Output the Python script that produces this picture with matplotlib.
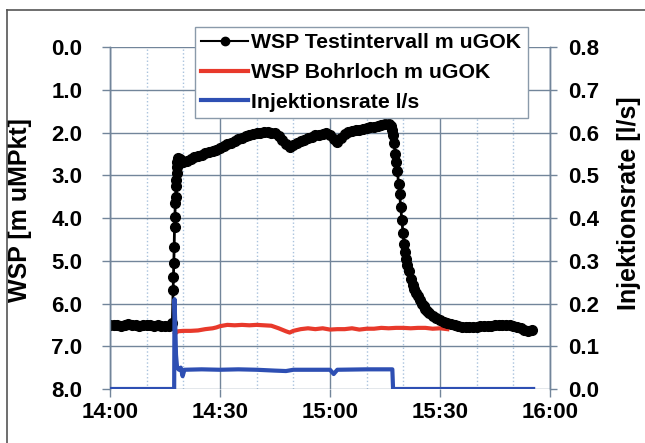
import numpy as np
import matplotlib.pyplot as plt
from matplotlib.lines import Line2D

plt.rcParams['font.family'] = ['Liberation Sans', 'DejaVu Sans']
plt.rcParams['font.weight'] = 'bold'

# time in minutes after 14:00
t_test = [0, 1, 2, 3, 4, 5, 6, 7, 8, 9, 10, 11, 12, 13, 14, 15, 16, 17.0,
          17.2, 17.3, 17.4, 17.5, 17.6, 17.7, 17.8, 17.9, 18.0, 18.1, 18.2, 18.3, 18.4, 18.5,
          19, 19.6, 20, 21, 22, 23, 24, 25, 26, 27, 28, 29, 30, 31, 32, 33, 34, 35, 36,
          37, 38, 39, 40, 41, 42, 43, 44, 45, 46, 47, 48, 49, 50, 51, 52, 53, 54, 55,
          56, 57, 58, 59, 60, 61, 62, 63, 64, 65, 66, 67, 68, 69, 70, 71, 72, 73, 74,
          75, 76, 76.6, 76.9, 77.2, 77.5, 77.8, 78.1, 78.4, 78.7, 79.0, 79.3, 79.6, 79.9,
          80.2, 80.5, 80.8, 81.1, 81.5, 82, 82.5, 83, 83.5, 84, 84.5, 85, 85.5, 86, 86.5,
          87, 88, 89, 90, 91, 92, 93, 94, 95, 96, 97, 98, 99, 100, 101, 102, 103, 104,
          105, 106, 107, 108, 109, 110, 111, 112, 113, 114, 115]
wsp_test = [6.50, 6.51, 6.50, 6.52, 6.50, 6.49, 6.51, 6.50, 6.52, 6.51, 6.50, 6.50, 6.52,
            6.51, 6.53, 6.52, 6.53, 6.45,
            5.69, 5.39, 5.06, 4.69, 4.20, 3.98, 3.65, 3.51, 3.24, 3.12, 2.95, 2.80, 2.68, 2.60,
            2.62, 2.68, 2.70, 2.66, 2.62, 2.58, 2.55, 2.52, 2.49, 2.46, 2.44, 2.41, 2.37, 2.32,
            2.28, 2.24, 2.20, 2.16, 2.12, 2.09, 2.06, 2.04, 2.02, 2.00, 1.99, 1.99, 2.00, 2.02,
            2.08, 2.18, 2.28, 2.33, 2.30, 2.25, 2.21, 2.17, 2.13, 2.10, 2.07, 2.05, 2.03, 2.02,
            2.05, 2.15, 2.22, 2.12, 2.03, 1.99, 1.97, 1.95, 1.93, 1.91, 1.89, 1.88, 1.86, 1.84,
            1.83, 1.81, 1.80, 1.85, 1.95, 2.05, 2.25, 2.50, 2.70, 2.90, 3.20, 3.45, 3.75, 4.05,
            4.35, 4.60, 4.80, 4.97, 5.10, 5.25, 5.42, 5.56, 5.67, 5.75, 5.83, 5.92, 6.00, 6.07,
            6.12, 6.17, 6.22, 6.29, 6.35, 6.39, 6.43, 6.46, 6.48, 6.50, 6.52, 6.54, 6.55, 6.55,
            6.55, 6.54, 6.53, 6.53, 6.52, 6.52, 6.51, 6.50, 6.50, 6.51, 6.50, 6.52, 6.54, 6.58,
            6.62, 6.64, 6.62]

t_bohr = [17.8, 18.5, 20, 22, 24, 26, 28, 29, 30, 32, 34, 36, 38, 40, 42, 44, 46, 48, 49,
          50, 52, 54, 56, 58, 60, 62, 64, 66, 68, 70, 72, 74, 76, 78, 80, 82, 84, 86, 88,
          90, 92]
wsp_bohr = [6.70, 6.65, 6.64, 6.64, 6.63, 6.60, 6.58, 6.56, 6.53, 6.50, 6.51, 6.50, 6.51,
            6.50, 6.51, 6.52, 6.58, 6.65, 6.68, 6.64, 6.60, 6.58, 6.60, 6.58, 6.61, 6.60,
            6.60, 6.58, 6.61, 6.59, 6.59, 6.57, 6.58, 6.57, 6.57, 6.58, 6.57, 6.57, 6.59,
            6.58, 6.60]

t_inj = [0, 17.5, 17.6, 17.8, 18.0, 18.3, 18.8, 19.3, 19.8, 20.3, 25, 30, 35, 40, 45, 48,
         50, 55, 60, 61, 62, 70, 77, 77.2, 115.4]
q_inj = [0, 0, 0.21, 0.15, 0.08, 0.05, 0.045, 0.05, 0.03, 0.045, 0.046, 0.045, 0.046,
         0.045, 0.043, 0.042, 0.045, 0.045, 0.045, 0.035, 0.045, 0.046, 0.046, 0, 0]

x_ticks = [0, 30, 60, 90, 120]
x_labels = ['14:00', '14:30', '15:00', '15:30', '16:00']
left_ticks = [0, 1, 2, 3, 4, 5, 6, 7, 8]
right_ticks = [0.0, 0.1, 0.2, 0.3, 0.4, 0.5, 0.6, 0.7, 0.8]

grid_col = '#72859a'
minor_col = '#a9c2dd'

fig = plt.figure(figsize=(6.45, 4.43), dpi=100)
ax = fig.add_axes([110 / 645, 1 - 389 / 443, 440 / 645, 342 / 443])
ax2 = ax.twinx()

ax.plot(t_bohr, wsp_bohr, color='#e8392b', lw=3, zorder=3)
ax.plot(t_test, wsp_test, color='black', lw=2, marker='o', ms=7, zorder=4)
ax2.plot(t_inj, q_inj, color='#2e4fb3', lw=3, zorder=3)

ax.set_xlim(0, 120)
ax.set_ylim(8, 0)
ax2.set_ylim(0, 0.8)

ax.set_xticks(x_ticks)
ax.set_xticklabels(x_labels)
ax.set_xticks(np.arange(0, 121, 10), minor=True)
ax.set_yticks(left_ticks)
ax.set_yticklabels(['%.1f' % v for v in left_ticks])
ax2.set_yticks(right_ticks)
ax2.set_yticklabels(['%.1f' % v for v in right_ticks])

ax.grid(True, which='major', color=grid_col, lw=1.0)
ax.grid(True, which='minor', axis='x', color=minor_col, lw=1.0, ls=':')
ax.set_axisbelow(True)

for a in (ax, ax2):
    for s in a.spines.values():
        s.set_color(grid_col)
        s.set_linewidth(1.0)
    a.spines['top'].set_visible(False)
    a.spines['bottom'].set_visible(False)

ax.tick_params(axis='x', which='major', direction='out', length=6, width=1,
               color=grid_col, pad=3.5, labelsize=16)
ax.tick_params(axis='x', which='minor', length=0)
ax.tick_params(axis='y', direction='out', length=6, width=1, color=grid_col,
               pad=14, labelsize=16)
ax2.tick_params(axis='y', direction='out', length=5, width=1, color=grid_col,
                pad=8, labelsize=16)

ax.set_ylabel('WSP [m uMPkt]', fontsize=18, fontweight='bold')
ax.yaxis.set_label_coords(-0.177, 0.523)
ax2.set_ylabel('Injektionsrate [l/s]', fontsize=18, fontweight='bold')
ax2.yaxis.set_label_coords(1.152, 0.544)

handles = [Line2D([], [], color='black', lw=1.5, marker='o', ms=6),
           Line2D([], [], color='#e8392b', lw=3),
           Line2D([], [], color='#2e4fb3', lw=3)]
labels = ['WSP Testintervall m uGOK', 'WSP Bohrloch m uGOK', 'Injektionsrate l/s']
leg = fig.legend(handles, labels, loc='upper left',
                 bbox_to_anchor=(195 / 645, 1 - 27 / 443), fontsize=15.3,
                 numpoints=1, handlelength=2.2, handletextpad=0.15,
                 labelspacing=0.5, borderpad=0.3, borderaxespad=0,
                 fancybox=False, framealpha=1, edgecolor='#8a9aaa')
leg.get_frame().set_linewidth(1.0)

# outer frame of the chart
fig.add_artist(Line2D([7 / 645, 1], [1 - 10 / 443, 1 - 10 / 443], color='#555555', lw=1.2))
fig.add_artist(Line2D([7 / 645, 7 / 645], [0, 1 - 10 / 443], color='#555555', lw=1.2))

fig.savefig('out.png', dpi=100)
